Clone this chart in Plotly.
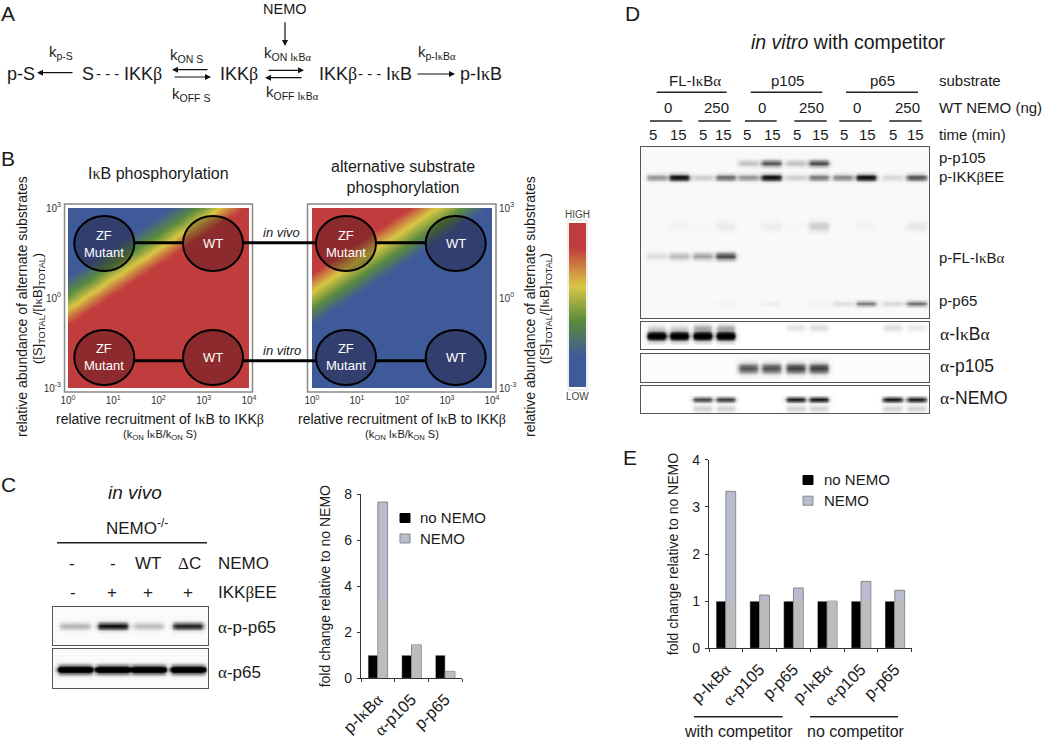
import numpy as np
import plotly.graph_objects as go

W, H = 1050, 741
FONT = "Liberation Sans"
INK = "#1a1a1a"

KAPPA = '<span style="font-family:Liberation Serif">κ</span>'
BETA = '<span style="font-family:Liberation Serif">β</span>'
ALPHA = '<span style="font-family:Liberation Serif">α</span>'
DELTA = '<span style="font-family:Liberation Serif">Δ</span>'

# ---------- data ----------
C_CATS = [f"p-I{KAPPA}B{ALPHA}", f"{ALPHA}-p105", "p-p65"]
C_NO_NEMO = [1, 1, 1]
C_NEMO = [7.65, 1.45, 0.3]
C_NEMO_GREY = [3.4, 1.45, 0.3]

E_CATS = [f"p-I{KAPPA}B{ALPHA}", f"{ALPHA}-p105", "p-p65", f"p-I{KAPPA}B{ALPHA}", f"{ALPHA}-p105", "p-p65"]
E_NO_NEMO = [1, 1, 1, 1, 1, 1]
E_NEMO = [3.33, 1.13, 1.28, 1.0, 1.42, 1.23]
E_NEMO_GREY = [1, 1, 1, 1, 1, 1]

LOG_RECRUIT = [1, 3.16, 10, 31.6, 100, 316, 1000, 3160, 10000]
LOG_ABUND = [0.001, 0.00316, 0.01, 0.0316, 0.1, 0.316, 1, 3.16, 10, 31.6, 100, 316, 1000]
IKB_PHOS = [
    [1, 1, 1, 1, 1, 1, 1, 1, 1],
    [1, 1, 1, 1, 1, 1, 1, 1, 1],
    [1, 1, 1, 1, 1, 1, 1, 1, 1],
    [1, 1, 1, 1, 1, 1, 1, 1, 1],
    [.9, 1, 1, 1, 1, 1, 1, 1, 1],
    [.7, .9, 1, 1, 1, 1, 1, 1, 1],
    [.45, .7, .9, 1, 1, 1, 1, 1, 1],
    [.27, .45, .7, .9, 1, 1, 1, 1, 1],
    [.1, .27, .45, .7, .9, 1, 1, 1, 1],
    [0, .1, .27, .45, .7, .9, 1, 1, 1],
    [0, 0, .1, .27, .45, .7, .9, 1, 1],
    [0, 0, 0, .1, .27, .45, .7, .9, 1],
    [0, 0, 0, 0, .1, .27, .45, .7, .9],
]
ALT_PHOS = [
    [0, 0, 0, 0, 0, 0, 0, 0, 0],
    [0, 0, 0, 0, 0, 0, 0, 0, 0],
    [0, 0, 0, 0, 0, 0, 0, 0, 0],
    [.03, 0, 0, 0, 0, 0, 0, 0, 0],
    [.14, .03, 0, 0, 0, 0, 0, 0, 0],
    [.34, .14, .03, 0, 0, 0, 0, 0, 0],
    [.54, .34, .14, .03, 0, 0, 0, 0, 0],
    [.72, .54, .34, .14, .03, 0, 0, 0, 0],
    [.93, .72, .54, .34, .14, .03, 0, 0, 0],
    [1, .93, .72, .54, .34, .14, .03, 0, 0],
    [1, 1, .93, .72, .54, .34, .14, .03, 0],
    [1, 1, 1, .93, .72, .54, .34, .14, .03],
    [1, 1, 1, 1, .93, .72, .54, .34, .14],
]
SCALE_LEVELS = [0, .1, .2, .3, .4, .5, .6, .7, .8, .9, 1]

HEAT_SCALE = [[0, "#3f5a99"], [.19, "#3f5a99"], [.40, "#5a8a3e"], [.62, "#d8c644"],
              [.85, "#c13d3d"], [1, "#c13d3d"]]

# blot lane centres, as a fraction of the lane axis
C_LANES = [.143, .386, .616, .870]
D_LANES = [.055, .133, .214, .294, .372, .452, .537, .617, .700, .781, .873, .956]

# band darkness per lane
C_P_P65 = [.25, .95, .22, .85]
C_P65 = [1, 1, 1, 1]
D_P105 = [0, 0, 0, 0, .2, .6, .2, .65, 0, 0, 0, 0]
D_IKK = [.35, .95, .15, .5, .35, .95, .15, .45, .4, .95, .12, .6]
D_SMEAR = [0, .02, .01, .05, 0, .04, .01, .15, 0, .02, 0, .06]
D_FL = [.1, .22, .3, .65, 0, 0, 0, 0, 0, 0, 0, 0]
D_P65 = [0, 0, 0, .02, 0, .04, 0, .03, .1, .45, .12, .5]
D_IKBA = [1, 1, 1, 1, 0, 0, 0, 0, 0, 0, 0, 0]
D_IKBA_UP = [.1, .1, .25, .25, 0, 0, .1, .12, 0, 0, .12, .08]
D_A105 = [0, 0, 0, 0, .6, .62, .7, .7, 0, 0, 0, 0]
D_NEMO = [0, 0, .7, .75, 0, 0, .9, .92, 0, 0, .92, .9]
D_NEMO_LOW = [0, 0, .15, .15, 0, 0, .15, .15, 0, 0, .15, .15]

# ---------- helpers ----------
annotations, shapes = [], []
layout = {}
traces = []


def px(x):
    return x / W


def py(y):
    return 1 - y / H


def text(x, y, s, size=15, anchor="center", angle=0, color=INK):
    annotations.append(dict(x=px(x), y=py(y), xref="paper", yref="paper", text=s, showarrow=False,
                            xanchor=anchor, yanchor="middle", textangle=angle,
                            font=dict(size=size, color=color, family=FONT)))


def arrow(x0, y0, x1, y1):
    annotations.append(dict(x=px(x1), y=py(y1), xref="paper", yref="paper", text="", showarrow=True,
                            ax=x0 - x1, ay=y0 - y1, axref="pixel", ayref="pixel",
                            arrowhead=2, arrowsize=1, arrowwidth=1.2, arrowcolor="#111"))


def line(x0, y0, x1, y1, width=1.5, color="#222"):
    shapes.append(dict(type="line", xref="paper", yref="paper", x0=px(x0), x1=px(x1), y0=py(y0), y1=py(y1),
                       line=dict(color=color, width=width)))


def rect(x0, y0, x1, y1, fill=None, color="#888", width=1.5):
    shapes.append(dict(type="rect", xref="paper", yref="paper", x0=px(x0), x1=px(x1), y0=py(y0), y1=py(y1),
                       fillcolor=fill or "rgba(0,0,0,0)", line=dict(color=color, width=width)))


def circle(cx, cy, rx, ry):
    shapes.append(dict(type="circle", xref="paper", yref="paper", x0=px(cx - rx), x1=px(cx + rx),
                       y0=py(cy + ry), y1=py(cy - ry), fillcolor="rgba(20,0,10,0.3)",
                       line=dict(color="#000", width=2)))


def axes(n, x0, x1, y0, y1, xkw, ykw):
    layout[f"xaxis{n}"] = dict(domain=[px(x0), px(x1)], anchor=f"y{n}", **xkw)
    layout[f"yaxis{n}"] = dict(domain=[py(y1), py(y0)], anchor=f"x{n}", **ykw)


PLAIN = dict(showgrid=False, zeroline=False, showticklabels=False, ticks="", showline=False)
next_ax = [1]


def new_ax():
    n = next_ax[0]
    next_ax[0] += 1
    return n


# ---------- blots ----------
def blot(box, lanes, half_width, bands, base=0.015):
    """bands: (mobility fraction, blur px, darkness per lane)."""
    x0, y0, x1, y1 = box
    nx, ny = int((x1 - x0) / 1.2), int((y1 - y0) / 1.2)
    xs = np.linspace(0, 1, nx)
    ys = np.linspace(0, 1, ny)
    XP, YP = np.meshgrid(xs * (x1 - x0), ys * (y1 - y0))
    z = np.full(XP.shape, float(base))
    for mob, blur, vals in bands:
        for lane, v in zip(lanes, vals):
            if v <= 0:
                continue
            cx = lane * (x1 - x0)
            edge = 0.5 * (np.tanh((XP - cx + half_width) / 2.2) - np.tanh((XP - cx - half_width) / 2.2))
            z += v * edge * np.exp(-((YP - mob * (y1 - y0)) ** 2) / (2 * blur ** 2))
    z = np.clip(z, 0, 1).round(3)
    n = new_ax()
    frame = dict(PLAIN, showline=True, mirror=True, linecolor="#555", linewidth=1.2)
    axes(n, x0, x1, y0, y1, dict(frame, range=[0, 1]), dict(frame, range=[1, 0]))
    traces.append(go.Heatmap(x=xs.round(4), y=ys.round(4), z=z, zmin=0, zmax=1, zsmooth="best", showscale=False,
                             colorscale=[[0, "#ffffff"], [.5, "#6e6e6e"], [1, "#000000"]],
                             xaxis=f"x{n}", yaxis=f"y{n}", hoverinfo="skip"))


blot((52.7, 606.7, 208, 645), C_LANES, 15, [(.5, 2.4, C_P_P65)])
blot((52.7, 648.7, 208, 688.3), C_LANES, 17, [(.52, 3.0, C_P65), (.52, 1.6, C_P65)])
blot((640.7, 146.7, 929, 318.3), D_LANES, 10, [(.095, 2.2, D_P105), (.178, 2.2, D_IKK), (.462, 3.5, D_SMEAR),
                                               (.637, 2.5, D_FL), (.913, 1.7, D_P65)], base=0.02)
blot((640.7, 322.3, 929, 349.3), D_LANES, 9, [(.5, 2.2, D_IKBA), (.5, 3.6, [v * .6 for v in D_IKBA]), (.19, 2.5, D_IKBA_UP)], base=0)
blot((640.7, 354.3, 929, 382), D_LANES, 9.5, [(.5, 3.4, D_A105)], base=0.01)
blot((640.7, 386, 929, 413.3), D_LANES, 9.5, [(.49, 1.7, D_NEMO), (.82, 2.6, D_NEMO_LOW)], base=0)


# ---------- panel B heat maps ----------
def heat(z, box, ylab_side, fr):
    n = new_ax()
    x0, y0, x1, y1 = box
    lab = dict(size=10, color="#333", family=FONT)
    axes(n, x0, x1, y0, y1,
         dict(type="log", range=[0, 4], tickvals=[1, 10, 100, 1000, 10000],
              ticktext=["10<sup>0</sup>", "10<sup>1</sup>", "10<sup>2</sup>", "10<sup>3</sup>", "10<sup>4</sup>"],
              tickfont=lab, ticks="", showgrid=False, zeroline=False, ticklabelstandoff=5, tickangle=0),
         dict(type="log", range=[-3, 3], tickvals=[0.001, 1, 1000], side=ylab_side,
              ticktext=["10<sup>-3</sup>", "10<sup>0</sup>", "10<sup>3</sup>"],
              tickfont=lab, ticks="", showgrid=False, zeroline=False, ticklabelstandoff=6))
    traces.append(go.Heatmap(x=LOG_RECRUIT, y=LOG_ABUND, z=z, zmin=0, zmax=1, zsmooth="best", showscale=False,
                             colorscale=HEAT_SCALE, xaxis=f"x{n}", yaxis=f"y{n}", hoverinfo="skip"))
    rect(*fr)


heat(IKB_PHOS, (68, 208, 249, 388), "left", (64.5, 204, 252.5, 392))
heat(ALT_PHOS, (312, 208, 492, 388), "right", (307.5, 204, 496, 392))

n = new_ax()
axes(n, 569, 586, 223, 387, dict(PLAIN, range=[0, 1]), dict(PLAIN, range=[0, 1]))
traces.append(go.Heatmap(x=[0, 1], y=SCALE_LEVELS, z=[[v, v] for v in SCALE_LEVELS], zmin=0, zmax=1, zsmooth="best",
                         showscale=False, colorscale=HEAT_SCALE, xaxis=f"x{n}", yaxis=f"y{n}", hoverinfo="skip"))
rect(568, 220, 587, 390, color="#dddddd", width=1)
text(577.7, 214, "HIGH", 10, color="#444")
text(577.7, 397, "LOW", 10, color="#444")

for x0, x1, y in [(134, 183, 242.7), (243, 316, 242.7), (376, 426, 242.7),
                  (134, 183, 360.7), (243, 316, 360.7), (376, 426, 360.7)]:
    line(x0, y, x1, y, width=3, color="#000")
for cx in (104.3, 213, 346, 455.7):
    for cy in (243.5, 357.5):
        circle(cx, cy, 30, 27.5)
for cx, cy, s in [(104.3, 243.5, "ZF<br>Mutant"), (213, 243.5, "WT"), (346, 243.5, "ZF<br>Mutant"), (455.7, 243.5, "WT"),
                  (104.3, 357.5, "ZF<br>Mutant"), (213, 357.5, "WT"), (346, 357.5, "ZF<br>Mutant"), (455.7, 357.5, "WT")]:
    text(cx, cy, s, 13, color="#ffffff")
text(281, 232, "<i>in vivo</i>", 13)
text(281.7, 350, "<i>in vitro</i>", 13)

text(158, 173, f"I{KAPPA}B phosphorylation", 16)
text(403, 177, "alternative substrate<br>phosphorylation", 16)
text(22, 307, "relative abundance of alternate substrates", 14, angle=-90)
text(38, 309, f"([S]<sub>TOTAL</sub>/[I{KAPPA}B]<sub>TOTAL</sub>)", 13, angle=-90)
text(530, 307, "relative abundance of alternate substrates", 14, angle=-90)
text(545, 309, f"([S]<sub>TOTAL</sub>/[I{KAPPA}B]<sub>TOTAL</sub>)", 13, angle=-90)
for cx in (160, 402):
    text(cx, 419, f"relative recruitment of I{KAPPA}B to IKK{BETA}", 14)
    text(cx, 435, f"(k<sub>ON</sub> I{KAPPA}B/k<sub>ON</sub> S)", 11)


# ---------- bars ----------
def bars(box, cats, no_nemo, nemo, grey, yrange, ytick):
    x0, y0, x1, y1 = box
    n = new_ax()
    pos = list(range(len(cats)))
    axes(n, x0, x1, y0, y1,
         dict(range=[-.5, len(cats) - .5], tickvals=pos, ticktext=cats, tickangle=-45, ticks="", showgrid=False,
              zeroline=False, showline=True, linecolor="#333", linewidth=1.2, ticklabelstandoff=4,
              tickfont=dict(size=16.5, color=INK, family=FONT),
              minor=dict(tickvals=[p - .5 for p in pos] + [len(cats) - .5], ticks="outside", ticklen=3,
                         tickcolor="#333", tickwidth=1, showgrid=False)),
         dict(range=yrange, tickvals=ytick, ticks="outside", ticklen=3, tickcolor="#333", showgrid=False,
              zeroline=False, showline=True, linecolor="#333", linewidth=1.2, ticklabelstandoff=2,
              tickfont=dict(size=14, color=INK, family=FONT),
              title=dict(text="fold change relative to no NEMO", standoff=10,
                         font=dict(size=14, color=INK, family=FONT))))
    common = dict(x=pos, xaxis=f"x{n}", yaxis=f"y{n}", showlegend=False)
    traces.append(go.Bar(y=no_nemo, name="no NEMO", width=.29, offset=-.29, marker=dict(color="#000"), **common))
    traces.append(go.Bar(y=nemo, name="NEMO", width=.29, offset=0,
                         marker=dict(color="#b9bccf", line=dict(color="#888", width=1)), **common))
    traces.append(go.Bar(y=grey, name="NEMO", width=.26, offset=.015,
                         marker=dict(color="#bcbcbc", line=dict(width=0)), **common))


bars((361, 494, 462, 678.3), C_CATS, C_NO_NEMO, C_NEMO, C_NEMO_GREY, [0, 8], [0, 2, 4, 6, 8])
bars((709, 459.8, 911.7, 648.3), E_CATS, E_NO_NEMO, E_NEMO, E_NEMO_GREY, [0, 4], [0, 1, 2, 3, 4])

for sx, tx, y1, y2 in [(400, 418, 518, 538.5), (803, 822, 480, 500.7)]:
    rect(sx, y1 - 4.5, sx + 10, y1 + 4.5, fill="#000", color="#000", width=1)
    rect(sx, y2 - 4.5, sx + 10, y2 + 4.5, fill="#b9bccf", color="#888", width=1)
    text(tx, y1 - 1, "no NEMO", 15, anchor="left")
    text(tx, y2, "NEMO", 15, anchor="left")

line(694, 716.7, 782.7, 716.7)
line(810, 716.7, 898, 716.7)
text(738, 731.7, "with competitor", 16)
text(856, 731.7, "no competitor", 16)

# ---------- panel letters ----------
for x, y, s in [(8, 14, "A"), (8, 158, "B"), (8, 485, "C"), (632, 14, "D"), (630, 458, "E")]:
    text(x, y, s, 21)

# ---------- panel A ----------
text(21, 74, "p-S", 18)
text(80, 74, "S", 18, anchor="left")
text(107, 73, "- - -", 15)
text(122, 74, f"IKK{BETA}", 18, anchor="left")
text(218, 74, f"IKK{BETA}", 18, anchor="left")
text(317, 74, f"IKK{BETA}", 18, anchor="left")
text(369, 73, "- - -", 15)
text(384, 74, f"I{KAPPA}B", 18, anchor="left")
text(458, 74, f"p-I{KAPPA}B", 18, anchor="left")
text(47, 52, "k<sub>p-S</sub>", 15, anchor="left")
text(168, 55, "k<sub>ON S</sub>", 15, anchor="left")
text(170, 95, "k<sub>OFF S</sub>", 15, anchor="left")
text(262, 53, f"k<sub>ON I{KAPPA}B{ALPHA}</sub>", 15, anchor="left")
text(264, 93, f"k<sub>OFF I{KAPPA}B{ALPHA}</sub>", 15, anchor="left")
text(416, 52, f"k<sub>p-I{KAPPA}B{ALPHA}</sub>", 15, anchor="left")
text(285, 8.5, "NEMO", 14.5)
arrow(74, 72.7, 37, 72.7)
arrow(209, 69.7, 172, 69.7)
arrow(173, 77, 211, 77)
arrow(267, 70.3, 304, 70.3)
arrow(303, 77.7, 265, 77.7)
arrow(285, 20.7, 285, 46)
arrow(416, 74, 455, 74)

# ---------- panel C labels ----------
text(135, 492, "<i>in vivo</i>", 19)
text(137, 527, "NEMO<sup>-/-</sup>", 17)
line(57, 542.7, 207, 542.7)
for x, s in [(72, "-"), (113, "-"), (148, "WT"), (189, f"{DELTA}C")]:
    text(x, 563, s, 17)
for x, s in [(73, "-"), (112, "+"), (148, "+"), (188, "+")]:
    text(x, 592, s, 17)
text(216, 563, "NEMO", 17, anchor="left")
text(216, 592, f"IKK{BETA}EE", 17, anchor="left")
text(216, 627, f"{ALPHA}-p-p65", 17, anchor="left")
text(216, 672, f"{ALPHA}-p65", 17, anchor="left")

# ---------- panel D labels ----------
text(848, 42, "<i>in vitro</i> with competitor", 19.5)
for x, s in [(695, f"FL-I{KAPPA}B{ALPHA}"), (787, "p105"), (882, "p65")]:
    text(x, 80, s, 15)
for x0, x1 in [(656.7, 726.7), (750.7, 822.3), (846, 918)]:
    line(x0, 92.3, x1, 92.3)
for x, s in [(667.7, "0"), (716.7, "250"), (762, "0"), (811.7, "250"), (856.7, "0"), (907.7, "250")]:
    text(x, 107.7, s, 15)
for x0, x1 in [(650, 682.3), (698.3, 730.7), (745, 776.7), (794.3, 826.7), (839.3, 871.7), (889.3, 921.7)]:
    line(x0, 121, x1, 121)
for x, s in [(652.7, "5"), (678.3, "15"), (703.3, "5"), (723.3, "15"), (747.3, "5"), (772.7, "15"),
             (797.3, "5"), (820, "15"), (844.3, "5"), (867.7, "15"), (892.7, "5"), (915, "15")]:
    text(x, 134.3, s, 15)
for y, s in [(80, "substrate"), (107.7, "WT NEMO (ng)"), (134.3, "time (min)"), (157, "p-p105"),
             (176.7, f"p-IKK{BETA}EE"), (258, f"p-FL-I{KAPPA}B{ALPHA}"), (300, "p-p65")]:
    text(937, y, s, 15, anchor="left")
for y, s in [(334, f"{ALPHA}-I{KAPPA}B{ALPHA}"), (365.7, f"{ALPHA}-p105"), (397.7, f"{ALPHA}-NEMO")]:
    text(938, y, s, 17.5, anchor="left")

fig = go.Figure(data=traces)
fig.update_layout(width=W, height=H, margin=dict(l=0, r=0, t=0, b=0, autoexpand=False), autosize=False,
                  barmode="overlay", paper_bgcolor="#ffffff", plot_bgcolor="#ffffff", showlegend=False,
                  font=dict(family=FONT, color=INK), annotations=annotations, shapes=shapes, **layout)
fig.write_html("out.html", config=dict(displayModeBar=False),
               post_script="document.body.style.margin='0';document.documentElement.style.overflow='hidden';")
